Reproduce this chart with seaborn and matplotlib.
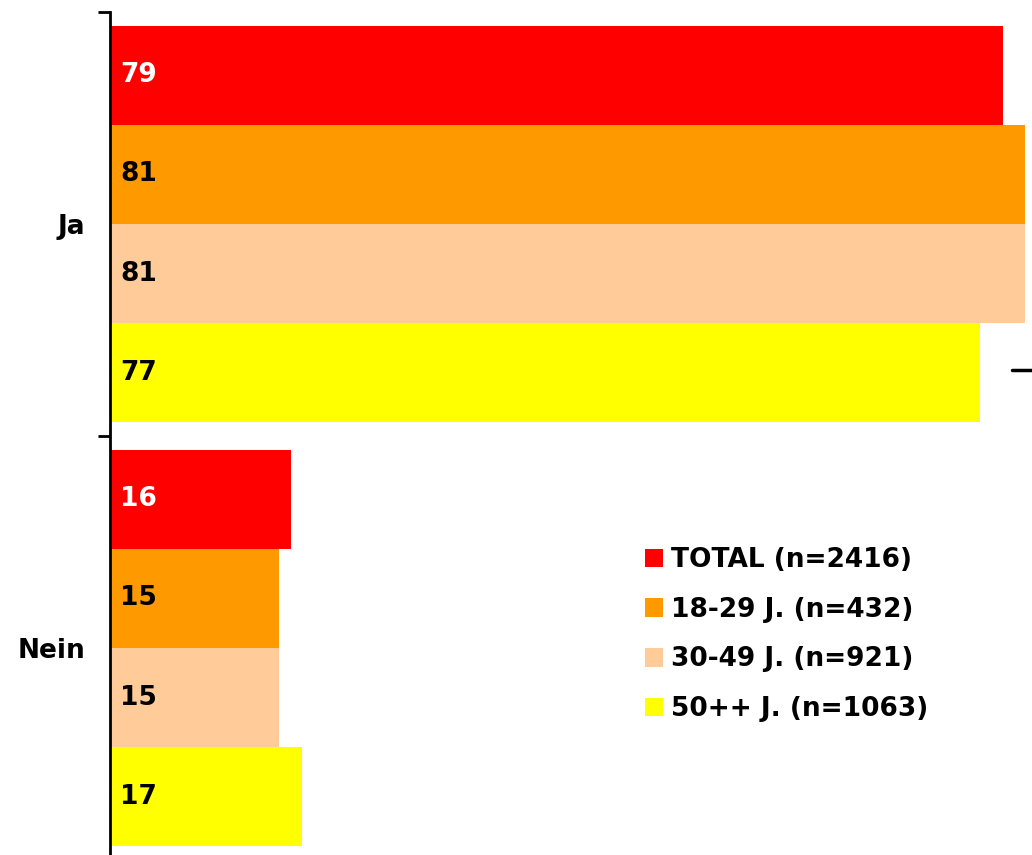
import matplotlib.pyplot as plt
import seaborn as sns
import pandas as pd
from matplotlib.lines import Line2D

# data
answers = ["Ja", "Nein"]
groups = ["TOTAL (n=2416)", "18-29 J. (n=432)", "30-49 J. (n=921)", "50++ J. (n=1063)"]
ja_values = [79, 81, 81, 77]
nein_values = [16, 15, 15, 17]
colors = ["#FF0000", "#FF9900", "#FFCC99", "#FFFF00"]
label_colors = ["white", "black", "black", "black"]

df = pd.DataFrame({
    "answer": [answers[0]] * 4 + [answers[1]] * 4,
    "group": groups * 2,
    "value": ja_values + nein_values,
})

sns.set_style("white")
plt.rcParams["font.family"] = ["DejaVu Sans"]
plt.rcParams["font.weight"] = "bold"
plt.rcParams["text.color"] = "black"
plt.rcParams["ytick.color"] = "black"
plt.rcParams["ytick.labelcolor"] = "black"

fig = plt.figure(figsize=(10.32, 8.55), dpi=100)
ax = fig.add_axes([110 / 1032, 1 - 860 / 855, 922 / 1032, 848 / 855])

sns.barplot(data=df, y="answer", x="value", hue="group", hue_order=groups,
            palette=colors, orient="h", width=0.934, saturation=1,
            linewidth=0, ax=ax)

ax.set_xlim(0, 81.6)
ax.set_ylim(1.5, -0.5)
ax.set_xlabel("")
ax.set_ylabel("")
ax.set_xticks([])

# bar value labels
for container, col in zip(ax.containers, label_colors):
    for bar in container:
        ax.text(0.9, bar.get_y() + bar.get_height() / 2, f"{bar.get_width():.0f}",
                ha="left", va="center", color=col, fontsize=19, fontweight="bold")

for s in ["top", "right", "bottom"]:
    ax.spines[s].set_visible(False)
ax.spines["left"].set_linewidth(2)
ax.spines["left"].set_color("black")

ax.set_yticks([0, 1])
ax.set_yticklabels(answers, fontsize=19, fontweight="bold", color="black")
ax.tick_params(axis="y", which="major", length=0, pad=18)
ax.set_yticks([-0.5, 0.5, 1.5], minor=True)
ax.tick_params(axis="y", which="minor", length=9, width=2, color="black", left=True)

leg = ax.legend(loc="upper left", bbox_to_anchor=(645 / 1032, 1 - 547 / 855),
                bbox_transform=fig.transFigure, frameon=False,
                handlelength=0.7, handleheight=0.7, handletextpad=0.3,
                labelspacing=0.9, borderpad=0, borderaxespad=0,
                prop={"weight": "bold", "size": 19})
for t in leg.get_texts():
    t.set_color("black")

# small stray dash on the right edge
fig.add_artist(Line2D([1012 / 1032, 1.0], [1 - 370 / 855] * 2, color="black", linewidth=2.5))

fig.savefig("out.png", dpi=100)
